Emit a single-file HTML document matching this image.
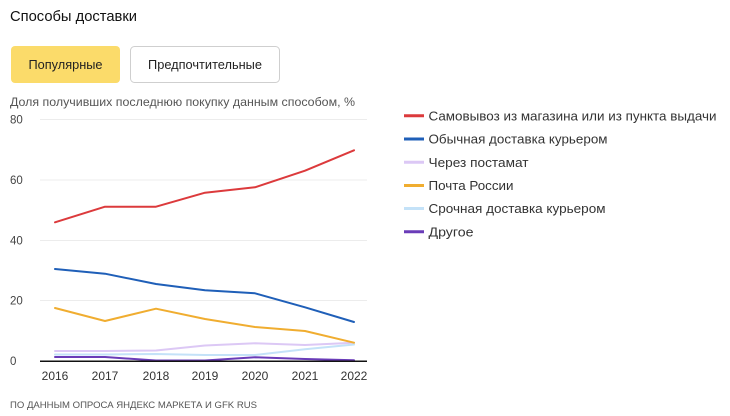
<!DOCTYPE html>
<html><head><meta charset="utf-8">
<style>
html,body{margin:0;padding:0;background:#fff;}
body{width:730px;height:416px;overflow:hidden;font-family:"Liberation Sans","Noto Sans CJK SC",sans-serif;}
svg{display:block}
text{font-family:"Liberation Sans","Noto Sans CJK SC",sans-serif;}
</style></head><body>
<svg width="730" height="416" viewBox="0 0 730 416" xmlns="http://www.w3.org/2000/svg">
<rect width="730" height="416" fill="#fff"/>
<text x="10" y="21" font-size="15" fill="#111" textLength="127" lengthAdjust="spacingAndGlyphs">Способы доставки</text>
<rect x="11" y="46" width="109" height="37" rx="4" fill="#fbdb6a"/>
<text x="65.5" y="69" font-size="13" fill="#222" text-anchor="middle" textLength="74" lengthAdjust="spacingAndGlyphs">Популярные</text>
<rect x="130.5" y="46.5" width="149" height="36" rx="4" fill="#fff" stroke="#cfcfcf"/>
<text x="205" y="69" font-size="13" fill="#222" text-anchor="middle" textLength="114" lengthAdjust="spacingAndGlyphs">Предпочтительные</text>
<text x="10" y="106" font-size="12" fill="#555" textLength="345" lengthAdjust="spacingAndGlyphs">Доля получивших последнюю покупку данным способом, %</text>
<g stroke="#ececec" stroke-width="1">
<line x1="40" y1="119.5" x2="367" y2="119.5"/>
<line x1="40" y1="180" x2="367" y2="180"/>
<line x1="40" y1="240.5" x2="367" y2="240.5"/>
<line x1="40" y1="300.5" x2="367" y2="300.5"/>
</g>
<g font-size="11.5" fill="#444">
<text x="10" y="123.5">80</text>
<text x="10" y="184">60</text>
<text x="10" y="244.5">40</text>
<text x="10" y="304.5">20</text>
<text x="10" y="365">0</text>
</g>
<g fill="none" stroke-width="2" stroke-linejoin="round" stroke-linecap="round">
<polyline stroke="#dcc8f5" points="55,351 105,351 156,350.5 205,345.5 255,343.3 305,345 354,342.7"/>
<polyline stroke="#c4e2f8" points="55,354.5 105,354.5 156,354 205,355 255,355 305,349.3 354,344.5"/>
<polyline stroke="#6a3cb8" points="55,357 105,357 156,360.5 205,360.5 255,357.3 305,359 354,360.3"/>
<polyline stroke="#f0ad30" points="55,308 105,321 156,308.7 205,319 255,327 305,331 354,342.7"/>
<polyline stroke="#1f5fb8" points="55,269 105,273.7 156,284 205,290.3 255,293.3 305,307.3 354,322"/>
<polyline stroke="#dc3a3c" points="55,222.3 105,206.7 156,206.7 205,192.7 255,187.3 305,170.7 354,150.3"/>
</g>
<line x1="40" y1="361.3" x2="367" y2="361.3" stroke="#111" stroke-width="1.5"/>
<g font-size="12" fill="#333" text-anchor="middle">
<text x="55" y="380">2016</text>
<text x="105" y="380">2017</text>
<text x="156" y="380">2018</text>
<text x="205" y="380">2019</text>
<text x="255" y="380">2020</text>
<text x="305" y="380">2021</text>
<text x="354" y="380">2022</text>
</g>
<text x="10" y="408" font-size="9.5" fill="#555" textLength="247" lengthAdjust="spacingAndGlyphs">ПО ДАННЫМ ОПРОСА ЯНДЕКС МАРКЕТА И GFK RUS</text>
<g stroke-width="3">
<line x1="404" y1="115.7" x2="424" y2="115.7" stroke="#dc3a3c"/>
<line x1="404" y1="139" x2="424" y2="139" stroke="#1f5fb8"/>
<line x1="404" y1="162.3" x2="424" y2="162.3" stroke="#dcc8f5"/>
<line x1="404" y1="185.5" x2="424" y2="185.5" stroke="#f0ad30"/>
<line x1="404" y1="208.5" x2="424" y2="208.5" stroke="#c4e2f8"/>
<line x1="404" y1="231.7" x2="424" y2="231.7" stroke="#6a3cb8"/>
</g>
<g font-size="13" fill="#333">
<text x="428.5" y="120.3" textLength="288" lengthAdjust="spacingAndGlyphs">Самовывоз из магазина или из пункта выдачи</text>
<text x="428.5" y="143.6" textLength="179" lengthAdjust="spacingAndGlyphs">Обычная доставка курьером</text>
<text x="428.5" y="166.9" textLength="100" lengthAdjust="spacingAndGlyphs">Через постамат</text>
<text x="428.5" y="190.1" textLength="85" lengthAdjust="spacingAndGlyphs">Почта России</text>
<text x="428.5" y="213.1" textLength="177" lengthAdjust="spacingAndGlyphs">Срочная доставка курьером</text>
<text x="428.5" y="236.3" textLength="45" lengthAdjust="spacingAndGlyphs">Другое</text>
</g>
</svg>
</body></html>
